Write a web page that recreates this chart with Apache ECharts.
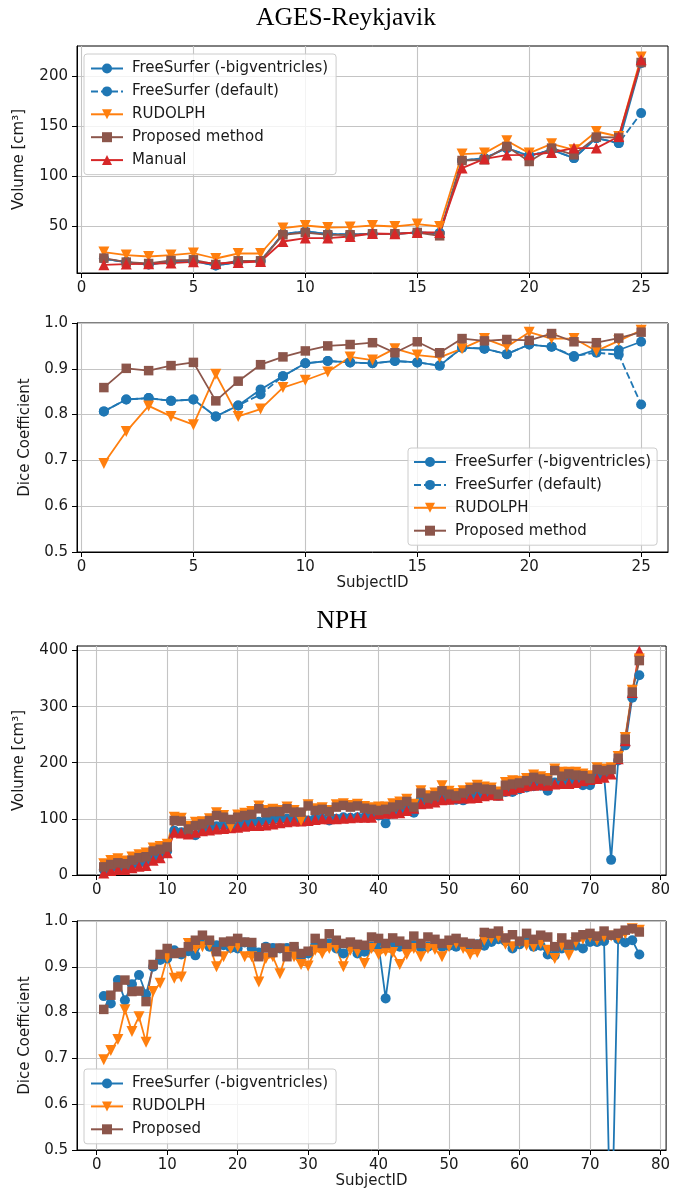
<!DOCTYPE html>
<html>
<head>
<meta charset="utf-8">
<script src="https://cdn.jsdelivr.net/npm/echarts@6/dist/echarts.min.js"></script>
<style>
  html, body { margin: 0; padding: 0; background: #fff; }
  #chart { width: 673px; height: 1199px; }
</style>
</head>
<body>
<div id="chart"></div>
<script>
// ---------- AGES-Reykjavik cohort ----------
const agesSubjects = [1,2,3,4,5,6,7,8,9,10,11,12,13,14,15,16,17,18,19,20,21,22,23,24,25];

// Ventricular volume [cm^3]
const agesVolFS        = [17.7,14.4,12.0,15.0,15.5,11.0,14.5,15.5,42.7,45.0,42.5,42.0,42.7,42.7,44.0,43.4,116.0,118.4,128.4,120.7,126.7,118.4,138.4,133.4,213.4];
const agesVolFSDefault = [17.7,14.4,12.0,15.0,15.5,11.0,14.5,15.5,42.7,45.0,42.5,42.0,42.7,42.7,44.0,43.4,116.0,118.4,128.4,120.7,126.7,118.4,138.4,133.4,163.4];
const agesVolRudolph   = [24.4,21.4,20.0,21.4,23.4,18.0,23.0,23.0,48.4,51.0,49.0,49.4,51.0,50.0,52.4,50.0,122.4,123.4,135.7,123.4,132.7,126.7,145.0,140.0,219.4];
const agesVolProposed  = [18.4,14.4,13.0,16.0,16.7,12.0,15.7,15.7,41.7,44.0,41.7,41.7,42.7,42.7,44.0,40.7,116.0,116.7,130.0,115.0,128.4,121.7,139.4,139.0,214.0];
const agesVolManual    = [11.7,12.4,12.7,13.4,14.7,13.0,14.0,15.0,35.0,38.4,38.4,40.0,43.0,42.7,44.0,44.0,108.4,117.7,121.4,121.7,124.0,128.4,128.4,140.0,216.7];

// Dice coefficient against the manual segmentation
const agesDiceFS        = [0.807,0.833,0.836,0.830,0.833,0.796,0.820,0.855,0.884,0.912,0.917,0.914,0.912,0.917,0.914,0.907,0.946,0.944,0.932,0.953,0.948,0.926,0.942,0.941,0.959];
const agesDiceFSDefault = [0.807,0.833,0.836,0.830,0.833,0.796,0.820,0.844,0.884,0.912,0.917,0.914,0.912,0.917,0.914,0.907,0.946,0.944,0.932,0.953,0.948,0.928,0.935,0.931,0.822];
const agesDiceRudolph   = [0.693,0.763,0.819,0.796,0.778,0.888,0.796,0.812,0.859,0.875,0.893,0.926,0.919,0.944,0.930,0.925,0.944,0.966,0.948,0.980,0.966,0.966,0.939,0.961,0.984];
const agesDiceProposed  = [0.859,0.901,0.896,0.907,0.914,0.830,0.873,0.909,0.926,0.939,0.950,0.953,0.957,0.935,0.959,0.935,0.966,0.961,0.964,0.962,0.977,0.959,0.957,0.967,0.980];

// ---------- NPH cohort ----------
const nphSubjects = [1,2,3,4,5,6,7,8,9,10,11,12,13,14,15,16,17,18,19,20,21,22,23,24,25,26,27,28,29,30,31,32,33,34,35,36,37,38,39,40,41,42,43,44,45,46,47,48,49,50,51,52,53,54,55,56,57,58,59,60,61,62,63,64,65,66,67,68,69,70,71,72,73,74,75,76,77];

const nphVolFS = [9.6,12.7,14.5,10.8,18.7,21.7,22,30.7,35,42.8,
  79,76,73,71,79,82,87,89,86,88,
  91,94,95,97,99,101,100,99,100,97,
  100,100,97,100,103,102,103,103,106,106,
  92,109,113,118,111,135,130,133,135,134,
  134,133,141,146,141,143,141,148,148,153,
  156,158,159,150,165,165,166,164,160,160,
  174,177,27,204,231,316,356];
const nphVolManual = [3.6,7.8,9.6,9.6,12.7,15.7,16.9,26.5,30.7,39.8,
  76,75,73,76,79,80,82,83,84,85,
  87,88,88,89,91,93,95,96,96,97,
  99,100,100,100,101,102,103,103,103,109,
  110,110,111,115,119,127,128,130,134,135,
  137,137,137,138,141,143,142,150,153,156,
  159,160,161,160,162,163,163,165,168,170,
  172,174,180,207,239,325,399];
const nphVolRudolph = [20,26,29,25,32,36,39,48,51,55,
  103,101,87,94,95,100,111,106,86,107,
  110,113,123,115,117,115,121,115,97,125,
  118,120,115,125,127,124,126,122,120,121,
  121,127,130,135,126,150,141,146,159,149,
  145,150,155,160,157,155,148,165,168,167,
  172,178,175,172,189,183,183,183,180,177,
  191,189,191,211,245,329,385];
const nphVolProposed = [14.5,18.7,21.7,20,26.5,30.7,32.5,42.8,45.8,50,
  97,96,82,88,91,97,106,103,99,103,
  106,108,118,111,113,113,118,112,112,123,
  115,117,113,121,124,121,123,119,117,115,
  117,121,125,131,121,146,137,141,150,144,
  141,146,152,156,153,152,144,160,162,164,
  168,174,171,168,186,176,180,178,177,172,
  188,186,188,208,242,326,382];

const nphDiceFS = [0.836,0.820,0.871,0.827,0.862,0.882,0.840,0.900,0.915,0.918,
  0.936,0.927,0.934,0.925,0.954,0.944,0.947,0.947,0.941,0.940,
  0.953,0.940,0.931,0.944,0.941,0.940,0.941,0.940,0.922,0.929,
  0.947,0.944,0.951,0.940,0.929,0.944,0.929,0.933,0.944,0.946,
  0.831,0.947,0.944,0.946,0.947,0.942,0.944,0.947,0.944,0.946,
  0.944,0.951,0.944,0.949,0.946,0.954,0.960,0.956,0.940,0.949,
  0.958,0.944,0.946,0.927,0.925,0.940,0.944,0.946,0.940,0.954,
  0.954,0.956,0.25,0.960,0.953,0.958,0.927];
const nphDiceRudolph = [0.697,0.717,0.741,0.806,0.759,0.791,0.735,0.846,0.864,0.920,
  0.875,0.878,0.951,0.940,0.944,0.947,0.900,0.922,0.940,0.944,
  0.922,0.922,0.867,0.918,0.922,0.885,0.933,0.922,0.905,0.902,
  0.936,0.929,0.940,0.941,0.900,0.936,0.933,0.907,0.940,0.927,
  0.934,0.931,0.905,0.927,0.940,0.922,0.940,0.938,0.922,0.944,
  0.951,0.940,0.927,0.931,0.958,0.962,0.965,0.949,0.944,0.953,
  0.947,0.944,0.951,0.936,0.918,0.946,0.925,0.953,0.960,0.965,
  0.958,0.965,0.967,0.963,0.972,0.983,0.980];
const nphDiceProposed = [0.807,0.838,0.856,0.871,0.846,0.847,0.824,0.905,0.927,0.940,
  0.929,0.931,0.944,0.958,0.969,0.958,0.933,0.954,0.956,0.962,
  0.954,0.953,0.922,0.941,0.931,0.941,0.922,0.944,0.929,0.934,
  0.962,0.951,0.972,0.958,0.951,0.954,0.949,0.947,0.965,0.962,
  0.951,0.963,0.956,0.949,0.967,0.951,0.965,0.960,0.951,0.958,
  0.962,0.954,0.951,0.949,0.975,0.973,0.978,0.963,0.970,0.956,
  0.973,0.960,0.969,0.965,0.944,0.963,0.949,0.965,0.970,0.973,
  0.967,0.978,0.969,0.973,0.980,0.983,0.976];

// Tick positions for each axis
const agesXTicks = [0, 5, 10, 15, 20, 25];
const nphXTicks = [0, 10, 20, 30, 40, 50, 60, 70, 80];
const agesVolTicks = [50, 100, 150, 200];
const nphVolTicks = [0, 100, 200, 300, 400];
const diceTicks = [0.5, 0.6, 0.7, 0.8, 0.9, 1.0];

// ---------- styling ----------
const C_FS = '#1f77b4', C_RUD = '#ff7f0e', C_PROP = '#8c564b', C_MAN = '#d62728';
const FONT = 'DejaVu Sans';
const TXT = '#1a1a1a';
const FS_SIZE = 15;
const SYM_DOWN = 'path://M0,0L10,0L5,9Z';

const NAME_FS = 'FreeSurfer (-bigventricles)';
const NAME_FSD = 'FreeSurfer (default)';
const NAME_RUD = 'RUDOLPH';
const NAME_PROP = 'Proposed method';
const NAME_PROP_SHORT = 'Proposed';
const NAME_MAN = 'Manual';

function lineSeries(name, xs, ys, gi, color, symbol, symbolSize, dashed) {
  return {
    type: 'line', name: name,
    xAxisIndex: gi, yAxisIndex: gi,
    data: xs.map((x, i) => [x, ys[i]]),
    symbol: symbol, symbolSize: symbolSize, showSymbol: true,
    itemStyle: { color: color, borderWidth: 0 },
    lineStyle: { color: color, width: 1.8, type: dashed ? [7, 3] : 'solid' },
    emphasis: { disabled: true },
    clip: true, silent: true
  };
}

function xAxis(gi, min, max, ticks, name) {
  return {
    type: 'value', gridIndex: gi, min: min, max: max,
    axisLine: { show: true, onZero: false, lineStyle: { color: '#000', width: 1 } },
    axisTick: { show: true, length: 5, customValues: ticks, lineStyle: { color: '#000', width: 1 } },
    axisLabel: {
      show: true, margin: 8, fontSize: FS_SIZE, fontFamily: FONT, color: TXT, hideOverlap: false,
      customValues: ticks, formatter: v => String(Math.round(v))
    },
    splitLine: { show: true, lineStyle: { color: '#c4c4c4', width: 1.1 } },
    name: name || '', nameLocation: 'middle', nameGap: 22,
    nameTextStyle: { fontSize: FS_SIZE, fontFamily: FONT, color: TXT, verticalAlign: 'top' }
  };
}

function yAxis(gi, min, max, ticks, decimals, name, nameGap) {
  return {
    type: 'value', gridIndex: gi, min: min, max: max,
    axisLine: { show: true, onZero: false, lineStyle: { color: '#000', width: 1 } },
    axisTick: { show: true, length: 5, customValues: ticks, lineStyle: { color: '#000', width: 1 } },
    axisLabel: {
      show: true, margin: 9, fontSize: FS_SIZE, fontFamily: FONT, color: TXT, hideOverlap: false,
      customValues: ticks, formatter: v => Number(v).toFixed(decimals)
    },
    splitLine: { show: true, lineStyle: { color: '#c4c4c4', width: 1.1 } },
    name: name, nameLocation: 'middle', nameGap: nameGap, nameRotate: 90,
    nameTextStyle: { fontSize: FS_SIZE, fontFamily: FONT, color: TXT }
  };
}

function legendBox(left, top, names, padding) {
  return {
    orient: 'vertical', left: left, top: top,
    data: names,
    selectedMode: false,
    itemWidth: 32, itemHeight: 12.5, itemGap: 7.9,
    padding: padding,
    backgroundColor: 'rgba(255,255,255,0.8)',
    borderColor: '#cccccc', borderWidth: 1, borderRadius: 3,
    textStyle: { fontSize: FS_SIZE, fontFamily: FONT, color: TXT, padding: [0, 0, 0, 4] }
  };
}

const gridBase = { left: 77, width: 591, show: true, borderColor: '#000', borderWidth: 1, backgroundColor: 'transparent', containLabel: false };

const option = {
  animation: false,
  backgroundColor: '#ffffff',
  textStyle: { fontFamily: FONT },
  graphic: [
    { type: 'text', x: 346, y: 18, style: { text: 'AGES-Reykjavik', fontSize: 25.5, fontFamily: 'Liberation Serif', fill: '#000', align: 'center', verticalAlign: 'middle' } },
    { type: 'text', x: 342, y: 621, style: { text: 'NPH', fontSize: 25.5, fontFamily: 'Liberation Serif', fill: '#000', align: 'center', verticalAlign: 'middle' } }
  ],
  grid: [
    Object.assign({ top: 46, height: 227 }, gridBase),
    Object.assign({ top: 323, height: 229 }, gridBase),
    Object.assign({ top: 646, height: 229 }, gridBase),
    Object.assign({ top: 921, height: 229 }, gridBase)
  ],
  xAxis: [
    xAxis(0, -0.2, 26.2, agesXTicks, ''),
    xAxis(1, -0.2, 26.2, agesXTicks, 'SubjectID'),
    xAxis(2, -2.8, 80.8, nphXTicks, ''),
    xAxis(3, -2.8, 80.8, nphXTicks, 'SubjectID')
  ],
  yAxis: [
    yAxis(0, 3.5, 230.5, agesVolTicks, 0, 'Volume [cm³]', 50),
    yAxis(1, 0.5, 1.0, diceTicks, 1, 'Dice Coefficient', 44),
    yAxis(2, 0, 408, nphVolTicks, 0, 'Volume [cm³]', 50),
    yAxis(3, 0.5, 1.0, diceTicks, 1, 'Dice Coefficient', 44)
  ],
  legend: [
    legendBox(84, 54, [NAME_FS, NAME_FSD, NAME_RUD, NAME_PROP, NAME_MAN], [7, 8, 7, 6]),
    legendBox(408, 448, [NAME_FS, NAME_FSD, NAME_RUD, NAME_PROP], [6.5, 6, 7, 5]),
    legendBox(84, 1069, [NAME_FS, NAME_RUD, NAME_PROP_SHORT], [7, 8, 7, 6])
  ],
  series: [
    // AGES volume
    lineSeries(NAME_FS, agesSubjects, agesVolFS, 0, C_FS, 'circle', 10, false),
    lineSeries(NAME_FSD, agesSubjects, agesVolFSDefault, 0, C_FS, 'circle', 10, true),
    lineSeries(NAME_RUD, agesSubjects, agesVolRudolph, 0, C_RUD, SYM_DOWN, 11, false),
    lineSeries(NAME_PROP, agesSubjects, agesVolProposed, 0, C_PROP, 'rect', 9.5, false),
    lineSeries(NAME_MAN, agesSubjects, agesVolManual, 0, C_MAN, 'triangle', 11, false),
    // AGES dice
    lineSeries(NAME_FS, agesSubjects, agesDiceFS, 1, C_FS, 'circle', 10, false),
    lineSeries(NAME_FSD, agesSubjects, agesDiceFSDefault, 1, C_FS, 'circle', 10, true),
    lineSeries(NAME_RUD, agesSubjects, agesDiceRudolph, 1, C_RUD, SYM_DOWN, 11, false),
    lineSeries(NAME_PROP, agesSubjects, agesDiceProposed, 1, C_PROP, 'rect', 9.5, false),
    // NPH volume
    lineSeries(NAME_FS, nphSubjects, nphVolFS, 2, C_FS, 'circle', 10, false),
    lineSeries(NAME_MAN, nphSubjects, nphVolManual, 2, C_MAN, 'triangle', 11, false),
    lineSeries(NAME_RUD, nphSubjects, nphVolRudolph, 2, C_RUD, SYM_DOWN, 11, false),
    lineSeries(NAME_PROP_SHORT, nphSubjects, nphVolProposed, 2, C_PROP, 'rect', 9.5, false),
    // NPH dice
    lineSeries(NAME_FS, nphSubjects, nphDiceFS, 3, C_FS, 'circle', 10, false),
    lineSeries(NAME_RUD, nphSubjects, nphDiceRudolph, 3, C_RUD, SYM_DOWN, 11, false),
    lineSeries(NAME_PROP_SHORT, nphSubjects, nphDiceProposed, 3, C_PROP, 'rect', 9.5, false)
  ]
};

const chart = echarts.init(document.getElementById('chart'), null, { renderer: 'canvas' });
chart.setOption(option);
</script>
</body>
</html>
